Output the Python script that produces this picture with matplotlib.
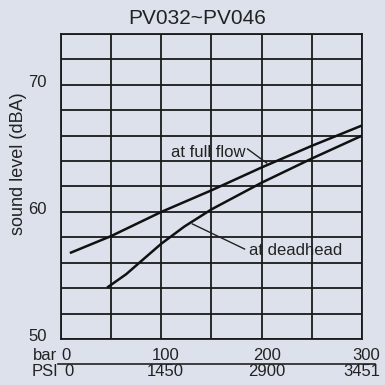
import matplotlib
matplotlib.use("Agg")
import matplotlib.pyplot as plt
from matplotlib.transforms import ScaledTranslation

plt.rcParams["font.family"] = ["Liberation Sans", "DejaVu Sans"]

BG = "#dce1ec"
INK = "#222222"

# sound level vs pressure (bar)
full_flow_bar = [10, 50, 100, 150, 200, 250, 300]
full_flow_dba = [56.8, 58.1, 60.0, 61.7, 63.5, 65.2, 66.8]

deadhead_bar = [47, 65, 81, 100, 123, 150, 200, 250, 300]
deadhead_dba = [54.1, 55.1, 56.2, 57.5, 58.85, 60.2, 62.3, 64.2, 66.0]

bar_ticks = [0, 100, 200, 300]
bar_labels = ["0", "100", "200", "300"]
psi_labels = ["0", "1450", "2900", "3451"]
y_ticks = [50, 60, 70]

fig = plt.figure(figsize=(3.85, 3.85), dpi=100, facecolor=BG)
ax = fig.add_axes([0.1584, 0.1195, 0.7818, 0.7922])
ax.set_facecolor(BG)
ax.set_xlim(0, 300)
ax.set_ylim(50, 74)

# grid: 50 bar by 2 dBA
for gx in range(0, 301, 50):
    ax.axvline(gx, color="#1a1a1a", lw=1.3, zorder=1)
for gy in range(50, 75, 2):
    ax.axhline(gy, color="#1a1a1a", lw=1.3, zorder=1)
for s in ax.spines.values():
    s.set_linewidth(1.3)
    s.set_color("#1a1a1a")

ax.plot(full_flow_bar, full_flow_dba, color="#111111", lw=1.8, zorder=3)
ax.plot(deadhead_bar, deadhead_dba, color="#111111", lw=1.8, zorder=3)

# curve labels with leader lines
ax.text(184, 64.65, "at full flow", ha="right", va="center", fontsize=12,
        color=INK, zorder=4)
ax.plot([186, 205], [64.95, 63.85], color=INK, lw=1.0, zorder=4)
ax.text(187, 57.0, "at deadhead", ha="left", va="center", fontsize=12,
        color=INK, zorder=4)
ax.plot([183, 131], [57.08, 59.05], color=INK, lw=1.0, zorder=4)

# y axis
ax.set_yticks(y_ticks)
ax.set_yticklabels([str(v) for v in y_ticks], fontsize=12, color=INK)
ax.tick_params(axis="y", length=0, pad=10)
for lab in ax.get_yticklabels():
    lab.set_transform(lab.get_transform() + ScaledTranslation(0, 0.04, fig.dpi_scale_trans))
ax.set_xticks([])

fig.text(19 / 385, 1 - 164 / 385, "sound level (dBA)", rotation=90,
         ha="center", va="center", fontsize=13, color=INK)
fig.text(197 / 385, 1 - 18 / 385, "PV032~PV046", ha="center", va="center",
         fontsize=15, color=INK)

# two-row pressure axis (bar / PSI)
bar_y = 1 - 355 / 385
psi_y = 1 - 372 / 385
ax_bar_y = (bar_y - 0.1195) / 0.7922
ax_psi_y = (psi_y - 0.1195) / 0.7922
xtr = ax.get_xaxis_transform()
fig.text(57 / 385, bar_y, "bar", ha="right", va="center", fontsize=12, color=INK)
fig.text(58 / 385, psi_y, "PSI", ha="right", va="center", fontsize=12, color=INK)
label_x = [0, 104, 205, 318]
psi_x = [3, 104, 205, 318]
aligns = ["left", "center", "center", "right"]
for i in range(len(bar_ticks)):
    ax.text(label_x[i], ax_bar_y, bar_labels[i], transform=xtr, ha=aligns[i],
            va="center", fontsize=12, color=INK, clip_on=False)
    ax.text(psi_x[i], ax_psi_y, psi_labels[i], transform=xtr, ha=aligns[i],
            va="center", fontsize=12, color=INK, clip_on=False)
fig.add_artist(plt.Line2D([58 / 385, 375 / 385], [1 - 364 / 385, 1 - 364 / 385],
                          color=INK, lw=1.2))

fig.savefig("out.png", dpi=100, facecolor=BG)
